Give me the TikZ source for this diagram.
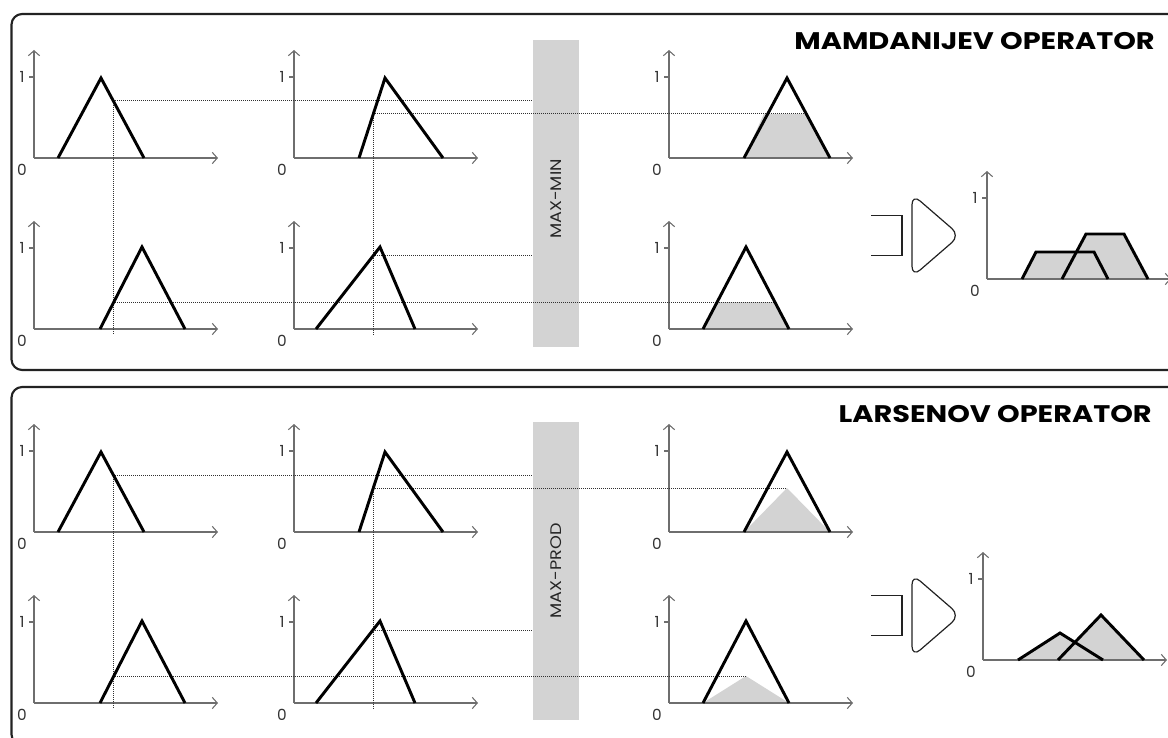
\documentclass[tikz,border=0pt]{standalone}
\usepackage{fontspec}
\setmainfont{Poppins}
\usetikzlibrary{arrows.meta}

\definecolor{fillgray}{HTML}{D3D3D3}
\definecolor{axisgray}{HTML}{6E6E6E}
\definecolor{framegray}{HTML}{222222}
\definecolor{dotgray}{HTML}{303030}

\tikzset{
  fzaxis/.style={draw=axisgray, line width=0.8pt, -{Straight Barb[length=3.8pt,width=8.5pt]}},
  fztick/.style={draw=axisgray, line width=0.8pt},
  mf/.style={draw=black, line width=2.2pt, line join=miter},
  mfshade/.style={fill=fillgray, draw=none},
  guide/.style={draw=dotgray, line width=0.75pt, dash pattern=on 0.75pt off 0.75pt},
  panel/.style={draw=framegray, line width=1.6pt, rounded corners=8pt},
  lbl/.style={font=\fontsize{11.5}{13}\selectfont, text=black!80, inner sep=0pt},
  optitle/.style={font=\fontsize{18}{22}\selectfont\bfseries, anchor=east, inner sep=0pt},
  opbar/.style={fill=fillgray, draw=none},
  bartext/.style={font=\fontsize{11.5}{13}\selectfont, rotate=90, text=black!85, inner sep=0pt},
  defuzz/.style={draw=framegray, line width=0.9pt},
}

% axes of one membership chart: #1 name, #2/#3 origin
\newcommand\fzaxes[3]{%
  \coordinate (#1) at (#2,#3);
  \draw[fzaxis] (#1) -- ++(0,-108);
  \draw[fzaxis] (#1) -- ++(184,0);
  \draw[fztick] ([shift={(-5,-81)}]#1) -- ++(5,0);
  \node[lbl] (#1-zero) at ([shift={(-12,12)}]#1) {0};
  \node[lbl] (#1-one) at ([shift={(-12,-81)}]#1) {1};
}

% defuzzifier symbol: #1 name, #2 vertical centre
\newcommand\fzdefuzz[2]{%
  \coordinate (#1) at (912,#2);
  \draw[defuzz] ([shift={(-41,-20)}]#1) -- ++(31,0) -- ++(0,40) -- ++(-31,0);
  \draw[defuzz, rounded corners=8pt] ([shift={(0,-41.5)}]#1) -- ([shift={(48,0)}]#1) -- ([shift={(0,41.5)}]#1) -- cycle;
}

\begin{document}
\begin{tikzpicture}[x=0.75pt, y=-0.75pt]
\useasboundingbox (0,0) rectangle (1168,738);

% ---------------- panels ----------------
\draw[panel] (11.5,14) rectangle (1190,370);
\draw[panel] (11.5,387) rectangle (1190,745);

\node[optitle] (mamtitle) at (1155,41) {\scalebox{1.2}[1]{MAMDANIJEV OPERATOR}};
\node[optitle] (lartitle) at (1152,414) {\scalebox{1.2}[1]{LARSENOV OPERATOR}};

% ---------------- aggregation bars ----------------
\fill[opbar] (533,40) rectangle (579,347);
\node[bartext] (maxmin) at (556,199) {\scalebox{1.15}[1]{MAX-MIN}};
\fill[opbar] (533,422) rectangle (579,720);
\node[bartext] (maxprod) at (556,571) {\scalebox{1.15}[1]{MAX-PROD}};

% ================= Mamdani =================
% clipped consequents
\fill[mfshade] (744,158) -- (763.8,114) -- (806.1,114) -- (830,158) -- cycle;
\fill[mfshade] (703,329) -- (717.2,302) -- (774.8,302) -- (789,329) -- cycle;
% aggregated output
\fill[mfshade] (1022,279) -- (1036,252) -- (1094,252) -- (1108,279) -- cycle;
\fill[mfshade] (1062,279) -- (1086,234) -- (1124,234) -- (1148,279) -- cycle;

\fzaxes{ma11}{34}{158}
\fzaxes{ma12}{294}{158}
\fzaxes{ma13}{669}{158}
\fzaxes{ma21}{34}{329}
\fzaxes{ma22}{294}{329}
\fzaxes{ma23}{669}{329}
\fzaxes{maout}{987}{279}

% input readings
\draw[guide] (113,101) -- (113,335);
\draw[guide] (113,101) -- (533,101);
\draw[guide] (373,114) -- (373,335);
\draw[guide] (373,114) -- (806,114);
\draw[guide] (373,256) -- (533,256);
\draw[guide] (113,302) -- (774,302);

\draw[mf] (58,158) -- (101,78) -- (144,158);
\draw[mf] (359,158) -- (385,78) -- (443,158);
\draw[mf] (744,158) -- (787,78) -- (830,158);
\draw[mf] (100,329) -- (142,247) -- (185,329);
\draw[mf] (316,329) -- (380,247) -- (415,329);
\draw[mf] (703,329) -- (746,247) -- (789,329);
\draw[mf] (1022,279) -- (1036,252) -- (1094,252) -- (1108,279);
\draw[mf] (1062,279) -- (1086,234) -- (1124,234) -- (1148,279);

\fzdefuzz{madf}{235.5}

% ================= Larsen =================
\fill[mfshade] (744,532) -- (787,488) -- (830,532) -- cycle;
\fill[mfshade] (703,703) -- (746,676) -- (789,703) -- cycle;
\fill[mfshade] (1018,660) -- (1060,633) -- (1103,660) -- cycle;
\fill[mfshade] (1058,660) -- (1101,615) -- (1144,660) -- cycle;

\fzaxes{la11}{34}{532}
\fzaxes{la12}{294}{532}
\fzaxes{la13}{669}{532}
\fzaxes{la21}{34}{703}
\fzaxes{la22}{294}{703}
\fzaxes{la23}{669}{703}
\fzaxes{laout}{983}{660}

\draw[guide] (113,475) -- (113,709);
\draw[guide] (113,475) -- (533,475);
\draw[guide] (373,488) -- (373,709);
\draw[guide] (373,488) -- (787,488);
\draw[guide] (373,630) -- (533,630);
\draw[guide] (113,676) -- (746,676);

\draw[mf] (58,532) -- (101,452) -- (144,532);
\draw[mf] (359,532) -- (385,452) -- (443,532);
\draw[mf] (744,532) -- (787,452) -- (830,532);
\draw[mf] (100,703) -- (142,621) -- (185,703);
\draw[mf] (316,703) -- (380,621) -- (415,703);
\draw[mf] (703,703) -- (746,621) -- (789,703);
\draw[mf] (1018,660) -- (1060,633) -- (1103,660);
\draw[mf] (1058,660) -- (1101,615) -- (1144,660);

\fzdefuzz{ladf}{615.5}

\end{tikzpicture}
\end{document}
